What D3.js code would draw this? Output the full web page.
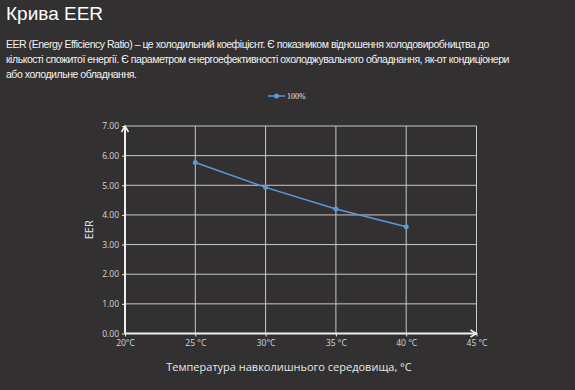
<!DOCTYPE html>
<html>
<head>
<meta charset="utf-8">
<script src="https://cdn.jsdelivr.net/npm/d3@7"></script>
<style>
  body { margin: 0; background: #323031; }
  svg { display: block; }
</style>
</head>
<body>
<div id="chart"></div>
<script>
// data
const temps = [25, 30, 35, 40]
const eer = [5.77, 4.93, 4.20, 3.60]
const xTicks = [20, 25, 30, 35, 40, 45]
const xTickLabels = ["20°C", "25 °C", "30°C", "35 °C", "40 °C", "45 °C"]
const yTicks = [0, 1, 2, 3, 4, 5, 6, 7]
const seriesName = "100%"

const title = "Крива EER"
const paragraph = [
  "EER (Energy Efficiency Ratio) – це холодильний коефіцієнт. Є показником відношення холодовиробництва до",
  "кількості спожитої енергії. Є параметром енергоефективності охолоджувального обладнання, як-от кондиціонери",
  "або холодильне обладнання."
]

const width = 575
const height = 390

const svg = d3.select("#chart").append("svg")
  .attr("width", width)
  .attr("height", height)

svg.append("rect").attr("width", width).attr("height", height).attr("fill", "#323031")

// header text
svg.append("text")
  .attr("x", 6).attr("y", 20)
  .attr("fill", "#ffffff")
  .attr("font-family", "Liberation Sans, Arial, sans-serif")
  .attr("font-size", 19)
  .text(title)

const para = svg.selectAll(".para").data(paragraph).enter().append("text")
  .attr("class", "para")
  .attr("x", 6)
  .attr("y", (d, i) => 48 + i * 15)
  .attr("fill", "#f2f2f2")
  .attr("font-family", "Liberation Sans, Arial, sans-serif")
  .attr("font-size", 10.5)
  .text(d => d)
// the original font is a bit tighter: pull letters together so the long line ends near x=510
const line2 = para.nodes()[1]
const extra = 503 - line2.getComputedTextLength()
if (extra < 0) para.attr("letter-spacing", extra / paragraph[1].length)

// scales
const x = d3.scaleLinear().domain([20, 45]).range([125, 476.5])
const y = d3.scaleLinear().domain([0, 7]).range([333.5, 126])

const tickFont = "Open Sans, Noto Sans, sans-serif"

// grid
svg.append("g").selectAll("line").data(yTicks.slice(1)).enter().append("line")
  .attr("x1", x(20)).attr("x2", x(45))
  .attr("y1", d => y(d)).attr("y2", d => y(d))
  .attr("stroke", "#c8c8c8").attr("stroke-width", 1)

svg.append("g").selectAll("line").data(xTicks.slice(1)).enter().append("line")
  .attr("x1", d => x(d)).attr("x2", d => x(d))
  .attr("y1", y(7)).attr("y2", y(0))
  .attr("stroke", "#c8c8c8").attr("stroke-width", 1)

// axes
const xAxis = svg.append("g")
  .attr("transform", `translate(0,${y(0)})`)
  .call(d3.axisBottom(x).tickValues(xTicks).tickSize(3).tickFormat((d, i) => xTickLabels[i]))
xAxis.select(".domain").remove()
xAxis.selectAll("line").attr("stroke", "#e8e8e8")
xAxis.selectAll("text").attr("fill", "#d8d8d8").attr("font-family", tickFont).attr("font-size", 8.5).attr("y", 5).attr("dy", "0.9em")

const yAxis = svg.append("g")
  .attr("transform", `translate(${x(20)},0)`)
  .call(d3.axisLeft(y).tickValues(yTicks).tickSize(3).tickFormat(d3.format(".2f")))
yAxis.select(".domain").remove()
yAxis.selectAll("line").attr("stroke", "#e8e8e8")
yAxis.selectAll("text").attr("fill", "#d8d8d8").attr("font-family", tickFont).attr("font-size", 8.5).attr("x", -6)

// axis lines with arrows
svg.append("line")
  .attr("x1", x(20)).attr("x2", x(45))
  .attr("y1", y(0)).attr("y2", y(0))
  .attr("stroke", "#f0f0f0").attr("stroke-width", 2)
svg.append("path")
  .attr("d", `M${x(45) - 6},${y(0) - 3.5} L${x(45)},${y(0)} L${x(45) - 6},${y(0) + 3.5}`)
  .attr("fill", "none").attr("stroke", "#f0f0f0").attr("stroke-width", 1.5)

svg.append("line")
  .attr("x1", x(20)).attr("x2", x(20))
  .attr("y1", y(0)).attr("y2", y(7))
  .attr("stroke", "#f0f0f0").attr("stroke-width", 2)
svg.append("path")
  .attr("d", `M${x(20) - 3.5},${y(7) + 6} L${x(20)},${y(7)} L${x(20) + 3.5},${y(7) + 6}`)
  .attr("fill", "none").attr("stroke", "#f0f0f0").attr("stroke-width", 1.5)

// axis titles
svg.append("text")
  .attr("x", 289).attr("y", 371)
  .attr("text-anchor", "middle")
  .attr("fill", "#e8e8e8")
  .attr("font-family", tickFont)
  .attr("font-size", 11)
  .text("Температура навколишнього середовища, °C")

svg.append("text")
  .attr("transform", `translate(93,${y(3.5)}) rotate(-90)`)
  .attr("text-anchor", "middle")
  .attr("fill", "#e8e8e8")
  .attr("font-family", tickFont)
  .attr("font-size", 11)
  .text("EER")

// series
const pts = temps.map((t, i) => ({t: t, v: eer[i]}))
const color = "#5b9bd5"

svg.append("path")
  .datum(pts)
  .attr("fill", "none")
  .attr("stroke", color)
  .attr("stroke-width", 1.5)
  .attr("d", d3.line().x(d => x(d.t)).y(d => y(d.v)))

svg.selectAll(".pt").data(pts).enter().append("circle")
  .attr("class", "pt")
  .attr("cx", d => x(d.t)).attr("cy", d => y(d.v))
  .attr("r", 2.5)
  .attr("fill", color)

// legend
const lg = svg.append("g").attr("transform", "translate(268,96)")
lg.append("line").attr("x1", 0).attr("x2", 17).attr("y1", 0).attr("y2", 0)
  .attr("stroke", color).attr("stroke-width", 1.5)
lg.append("circle").attr("cx", 8.5).attr("cy", 0).attr("r", 2.5).attr("fill", color)
lg.append("text").attr("x", 19).attr("y", 3)
  .attr("fill", "#e8e8e8")
  .attr("font-family", "Liberation Serif, serif")
  .attr("font-size", 8)
  .text(seriesName)
</script>
</body>
</html>
